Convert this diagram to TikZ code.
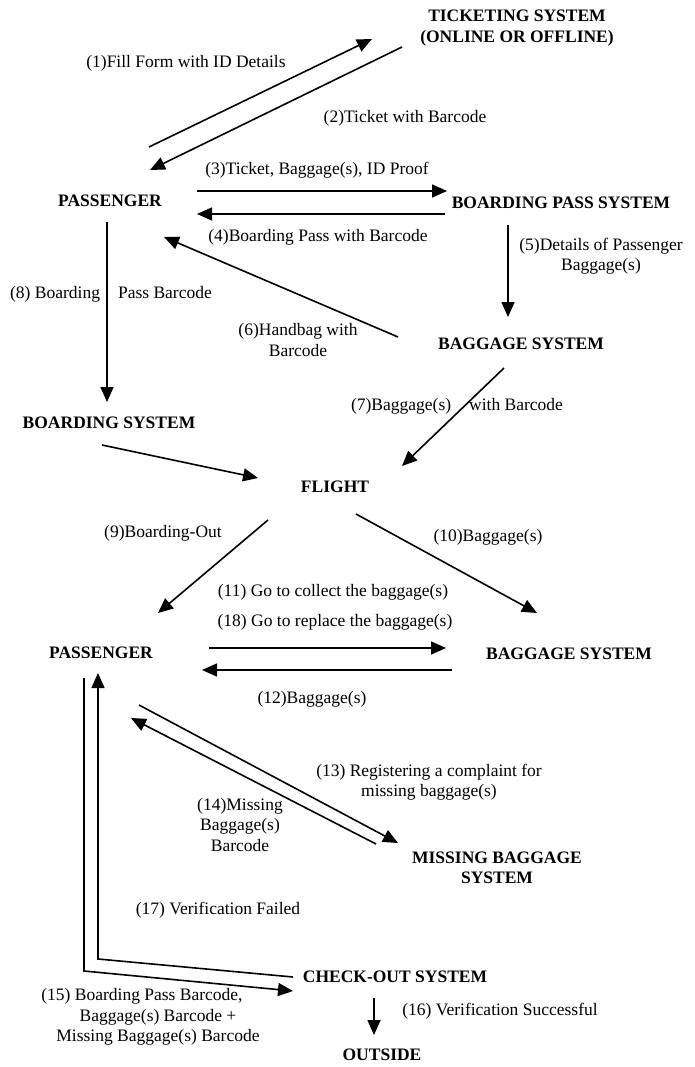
\documentclass[tikz,border=0pt]{standalone}
\usepackage{fontspec}
\setmainfont{Liberation Serif}
\usetikzlibrary{arrows.meta,calc}
\tikzset{
  sys/.style={font=\fontsize{17.5}{20.5}\selectfont\bfseries, align=center, inner sep=0pt},
  lbl/.style={font=\fontsize{17.5}{20.5}\selectfont, align=center, inner sep=0pt},
  arr/.style={line width=1.6pt, -{Triangle[length=15pt,width=13pt]}}
}
\begin{document}
\begin{tikzpicture}[x=1pt,y=-1pt]
    \useasboundingbox (0,0) rectangle (695,1067);
    % systems
    \node[sys] (tick)    at (517, 28) {TICKETING SYSTEM\\(ONLINE OR OFFLINE)};
    \node[sys] (pass1)   at (110,201) {PASSENGER};
    \node[sys] (bps)     at (561,203) {BOARDING PASS SYSTEM};
    \node[sys] (bag1)    at (521,344) {BAGGAGE SYSTEM};
    \node[sys] (bsys)    at (109,423) {BOARDING SYSTEM};
    \node[sys] (flight)  at (335,487) {FLIGHT};
    \node[sys] (pass2)   at (101,653) {PASSENGER};
    \node[sys] (bag2)    at (569,654) {BAGGAGE SYSTEM};
    \node[sys] (miss)    at (497,868) {MISSING BAGGAGE\\SYSTEM};
    \node[sys] (chk)     at (395,977) {CHECK-OUT SYSTEM};
    \node[sys] (outside) at (382,1055) {OUTSIDE};
    % labels of the steps
    \node[lbl] (fill)    at (186, 63) {(1)Fill Form with ID Details};
    \node[lbl] (ticket)  at (405,118) {(2)Ticket with Barcode};
    \node[lbl] (proof)   at (317,170) {(3)Ticket, Baggage(s), ID Proof};
    \node[lbl] (bpass)   at (318,237) {(4)Boarding Pass with Barcode};
    \node[lbl] (details) at (601,256) {(5)Details of Passenger\\Baggage(s)};
    \node[lbl] (handbag) at (298,340) {(6)Handbag with\\Barcode};
    \node[lbl] (bagbar)  at (457,406) {(7)Baggage(s)\hspace{18pt}with Barcode};
    \node[lbl] (bpbar)   at (111,294) {(8) Boarding\hspace{18pt}Pass Barcode};
    \node[lbl] (out)     at (163,533) {(9)Boarding-Out};
    \node[lbl] (bags)    at (488,537) {(10)Baggage(s)};
    \node[lbl] (collect) at (333,592) {(11) Go to collect the baggage(s)};
    \node[lbl] (replace) at (335,622) {(18) Go to replace the baggage(s)};
    \node[lbl] (back)    at (312,699) {(12)Baggage(s)};
    \node[lbl] (complain) at (429,782) {(13) Registering a complaint for\\missing baggage(s)};
    \node[lbl] (missbar) at (240,825) {(14)Missing\\Baggage(s)\\Barcode};
    \node[lbl] (allbar)  at (158,1017) {(15) Boarding Pass Barcode,\hspace*{32pt}\\Baggage(s) Barcode +\\Missing Baggage(s) Barcode};
    \node[lbl] (success) at (500,1011) {(16) Verification Successful};
    \node[lbl] (failed)  at (218,910) {(17) Verification Failed};
    % check-in side
    \draw[arr] ($(pass1)+(39,-54)$) -- ($(tick)+(-145,11)$);
    \draw[arr] ($(tick)+(-115,19)$) -- ($(pass1)+(40,-31)$);
    \draw[arr] ($(pass1)+(87,-10)$) -- ($(bps)+(-114,-12)$);
    \draw[arr] ($(bps)+(-116,11)$) -- ($(pass1)+(87,13)$);
    \draw[arr] ($(bps)+(-53,22)$) -- ($(bag1)+(-13,-27)$);
    \draw[arr] ($(bag1)+(-123,-7)$) -- ($(pass1)+(54,36)$);
    \draw[arr] ($(bag1)+(-17,24)$) -- ($(flight)+(67,-21)$);
    \draw[arr] ($(pass1)+(-3,21)$) -- ($(bsys)+(-2,-21)$);
    \draw[arr] ($(bsys)+(-7,22)$) -- ($(flight)+(-77,-9)$);
    % arrival side
    \draw[arr] ($(flight)+(-67,33)$) -- ($(pass2)+(57,-40)$);
    \draw[arr] ($(flight)+(21,27)$) -- ($(bag2)+(-32,-41)$);
    \draw[arr] ($(pass2)+(108,-5)$) -- ($(bag2)+(-123,-6)$);
    \draw[arr] ($(bag2)+(-117,16)$) -- ($(pass2)+(101,17)$);
    \draw[arr] ($(pass2)+(38,52)$) -- ($(miss)+(-99,-25)$);
    \draw[arr] ($(miss)+(-121,-24)$) -- ($(pass2)+(30,65)$);
    % check-out
    \draw[arr] ($(pass2)+(-17,25)$) -- ($(pass2)+(-17,318)$) -- ($(chk)+(-102,14)$);
    \draw[arr] ($(chk)+(-102,0)$) -- ($(pass2)+(-3,306)$) -- ($(pass2)+(-3,20)$);
    \draw[arr] ($(chk)+(-21,21)$) -- ($(outside)+(-8,-20)$);
\end{tikzpicture}
\end{document}
